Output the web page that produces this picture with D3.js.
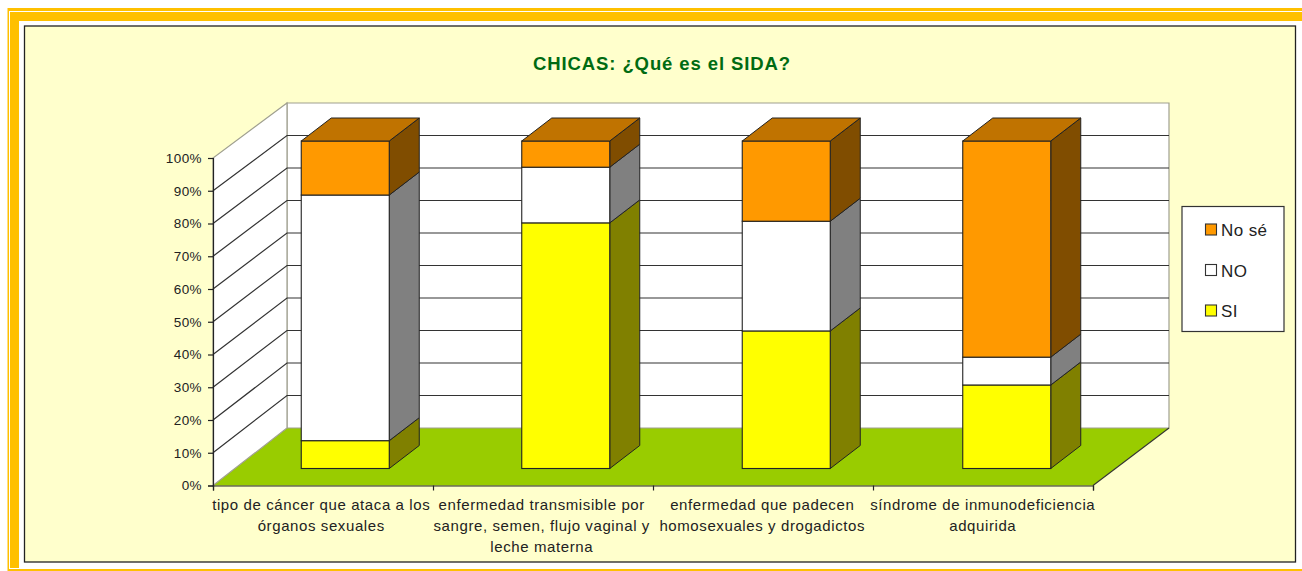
<!DOCTYPE html>
<html>
<head>
<meta charset="utf-8">
<script src="https://cdn.jsdelivr.net/npm/d3@7"></script>
<style>
  html, body { margin: 0; padding: 0; background: #fff; }
  text { font-family: "Liberation Sans", Arial, sans-serif; fill: #222; }
</style>
</head>
<body>
<div id="chart"></div>
<script>
const [width, height] = [1302, 571];

// Data
const categories = ["c1", "c2", "c3", "c4"];
const categoryLines = [
  ["tipo de cáncer que ataca a los", "órganos sexuales"],
  ["enfermedad transmisible por", "sangre, semen, flujo vaginal y", "leche materna"],
  ["enfermedad que padecen", "homosexuales y drogadictos"],
  ["síndrome de inmunodeficiencia", "adquirida"]
];
const si = [8.5, 75, 42, 25.5];
const no = [75, 17, 33.5, 8.5];
const nose = [16.5, 8, 24.5, 66];
const seriesNames = ["SI", "NO", "No sé"];
const yTicks = [0, 10, 20, 30, 40, 50, 60, 70, 80, 90, 100];

const colors = {
  "SI": { front: "#ffff00", side: "#808000", top: "#c0c000" },
  "NO": { front: "#ffffff", side: "#808080", top: "#c0c0c0" },
  "No sé": { front: "#ff9900", side: "#804d00", top: "#c07300" }
};

const svg = d3.select("#chart").append("svg")
  .attr("width", width).attr("height", height)
  .style("display", "block");

// page frame
svg.append("rect").attr("x", 7.5).attr("y", 8).attr("width", 1400).attr("height", 600)
  .attr("fill", "#ffc000");
svg.append("rect").attr("x", 9.5).attr("y", 11.5).attr("width", 1400).attr("height", 557)
  .attr("fill", "none").attr("stroke", "#fff").attr("stroke-width", 1);
svg.append("rect").attr("x", 19).attr("y", 21).attr("width", 1400).attr("height", 548)
  .attr("fill", "#fff");
svg.append("rect").attr("x", 24.5).attr("y", 26).attr("width", 1271).attr("height", 536)
  .attr("fill", "#ffffcc").attr("stroke", "#222").attr("stroke-width", 1.3);

svg.append("text").attr("x", 662).attr("y", 70).attr("text-anchor", "middle")
  .attr("font-size", 18.5).attr("font-weight", "bold").style("fill", "#006b12")
  .style("letter-spacing", "0.9px")
  .text("CHICAS: ¿Qué es el SIDA?");

// scales: front plane of the 3D box, back wall, and the bars in between
const x = d3.scaleBand().domain(categories).range([213, 1095]);
const y = d3.scaleLinear().domain([0, 100]).range([485.5, 158]);
const yBack = d3.scaleLinear().domain([0, 100]).range([428, 103]);
const [frontL, frontR] = [213, 1093];
const [backL, backR] = [287, 1169];
const barInset = { dx: 22, dy: -17 };
const barDepth = { dx: 30, dy: -23 };
const barWidth = 88;

const poly = pts => pts.map(p => p.join(",")).join(" ");
const stroke3d = "#222";
const wallEdge = "#a0a090";

// floor
svg.append("polygon")
  .attr("points", poly([[frontL, y(0)], [backL, yBack(0)], [backR, yBack(0)], [frontR, y(0)]]))
  .attr("fill", "#99cc00");

// back wall and left wall
svg.append("polygon")
  .attr("points", poly([[backL, yBack(100)], [backR, yBack(100)], [backR, yBack(0)], [backL, yBack(0)]]))
  .attr("fill", "#fff").attr("stroke", wallEdge).attr("stroke-width", 1.2);
svg.append("polygon")
  .attr("points", poly([[frontL, y(0)], [frontL, y(100)], [backL, yBack(100)], [backL, yBack(0)]]))
  .attr("fill", "#fff").attr("stroke", wallEdge).attr("stroke-width", 1.2);

// gridlines on both walls
yTicks.slice(1, -1).forEach(t => {
  svg.append("polyline")
    .attr("points", poly([[frontL, y(t)], [backL, yBack(t)], [backR, yBack(t)]]))
    .attr("fill", "none").attr("stroke", "#333").attr("stroke-width", 1.2);
});
svg.append("line").attr("x1", frontR).attr("y1", y(0)).attr("x2", backR).attr("y2", yBack(0))
  .attr("stroke", "#333").attr("stroke-width", 1.1);

// stacked bars
const rows = categories.map((c, i) => ({ cat: c, "SI": si[i], "NO": no[i], "No sé": nose[i] }));
const stack = d3.stack().keys(seriesNames)(rows);

categories.forEach((c, i) => {
  const x0 = x(c) + (x.bandwidth() - barWidth) / 2 + barInset.dx;
  const x1 = x0 + barWidth;
  const g = svg.append("g");
  stack.forEach(s => {
    const col = colors[s.key];
    const yb = y(s[i][0]) + barInset.dy;
    const yt = y(s[i][1]) + barInset.dy;
    g.append("polygon")
      .attr("points", poly([[x1, yb], [x1 + barDepth.dx, yb + barDepth.dy], [x1 + barDepth.dx, yt + barDepth.dy], [x1, yt]]))
      .attr("fill", col.side).attr("stroke", stroke3d).attr("stroke-width", 1);
    g.append("rect").attr("x", x0).attr("y", yt).attr("width", barWidth).attr("height", yb - yt)
      .attr("fill", col.front).attr("stroke", stroke3d).attr("stroke-width", 1.1);
    if (s.key === "No sé") {
      g.append("polygon")
        .attr("points", poly([[x0, yt], [x1, yt], [x1 + barDepth.dx, yt + barDepth.dy], [x0 + barDepth.dx, yt + barDepth.dy]]))
        .attr("fill", col.top).attr("stroke", stroke3d).attr("stroke-width", 1);
    }
  });
});

// axes
const yAxis = d3.axisLeft(y).tickValues(yTicks).tickFormat(d => d + "%").tickSize(5).tickPadding(6);
const yG = svg.append("g").attr("transform", `translate(${frontL},0)`).call(yAxis);
yG.selectAll("text").attr("font-size", 13.5).style("letter-spacing", "0.4px");
yG.selectAll("path, line").attr("stroke", "#222").attr("stroke-width", 1.2);

const xEdge = d3.scaleLinear().domain([0, categories.length]).range([frontL, frontR]);
const xAxis = d3.axisBottom(xEdge).ticks(categories.length).tickFormat("").tickSize(5);
const xG = svg.append("g").attr("transform", `translate(0,${y(0)})`).call(xAxis);
xG.selectAll("path, line").attr("stroke", "#222").attr("stroke-width", 1.2);

categories.forEach((c, i) => {
  const t = svg.append("text").attr("text-anchor", "middle").attr("font-size", 15)
    .style("letter-spacing", "0.6px");
  categoryLines[i].forEach((line, k) => {
    t.append("tspan").attr("x", x(c) + x.bandwidth() / 2 - 2).attr("y", 510 + k * 21).text(line);
  });
});

// legend
const legend = svg.append("g").attr("transform", "translate(1182,206.5)");
legend.append("rect").attr("width", 102).attr("height", 125)
  .attr("fill", "#fff").attr("stroke", "#333").attr("stroke-width", 1.2);
seriesNames.slice().reverse().forEach((name, k) => {
  const row = legend.append("g").attr("transform", `translate(0,${23 + k * 40.5})`);
  row.append("rect").attr("x", 23.5).attr("y", -5.5).attr("width", 11).attr("height", 11)
    .attr("fill", colors[name].front).attr("stroke", "#333").attr("stroke-width", 1.1);
  row.append("text").attr("x", 39).attr("y", 6.5).attr("font-size", 17)
    .style("letter-spacing", "0.4px").text(name);
});
</script>
</body>
</html>
